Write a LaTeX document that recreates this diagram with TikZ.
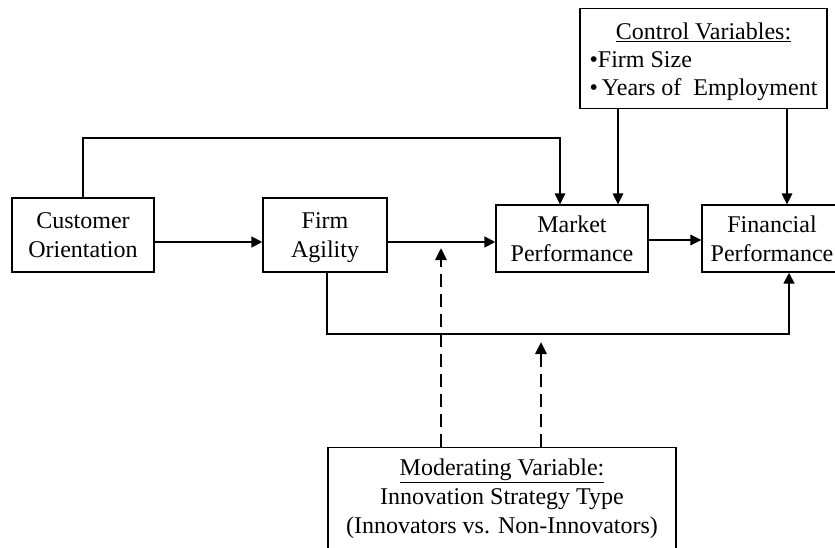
\documentclass[tikz,border=0pt]{standalone}
\usepackage{fontspec}
\setmainfont{Liberation Serif}
\usetikzlibrary{arrows.meta}

\begin{document}
\begin{tikzpicture}[x=1pt, y=-1pt,
  every node/.style={font=\fontsize{24}{29}\selectfont},
  box/.style={draw, line width=1.2pt, inner sep=0pt, align=center},
  thinline/.style={line width=1.3pt},
  thickline/.style={line width=2.8pt},
  tip/.style={-{Triangle[length=11pt,width=10.5pt]}},
  modline/.style={line width=2.8pt, dash pattern=on 13pt off 7pt, -{Triangle[length=12pt,width=11pt]}}
]
\useasboundingbox (0,0) rectangle (835,548);

% construct boxes
\node[box, minimum width=142pt, minimum height=74pt] (cust) at (83,235) {Customer\\Orientation};
\node[box, minimum width=124pt, minimum height=74pt, text depth=0pt] (firm) at (325,235) {Firm\\Agility};
\node[box, minimum width=152pt, minimum height=67pt] (market) at (572,238.5) {Market\\Performance};
\node[box, minimum width=140pt, minimum height=67pt] (fin) at (772,238.5) {Financial\\Performance};

% control variables: first baseline 31pt below the top edge, box 100pt tall
\node[box, anchor=north, minimum width=247pt, text height=31pt, text depth=69pt] (ctrl) at (703.5,8)
  {\fontsize{24}{28}\selectfont\begin{tabular}[t]{@{}l@{}}
   \multicolumn{1}{@{}c@{}}{\underline{Control Variables:}}\\
   •Firm Size\\
   •\,Years of\ \ Employment
   \end{tabular}};

% moderating variable (box runs past the lower edge)
\node[box, anchor=north, minimum width=348pt, text height=28pt, text depth=100pt] (mod) at (502,447)
  {\begin{tabular}[t]{@{}c@{}}
   \underline{Moderating Variable:}\\
   Innovation Strategy Type\\
   (Innovators vs. Non-Innovators)
   \end{tabular}};

% attachment points
\coordinate (ca) at ([yshift=-7pt]cust.east);
\coordinate (fa) at ([yshift=-7pt]firm.east);
\coordinate (ma) at ([yshift=-1.5pt]market.east);
\coordinate (mkin1) at ([xshift=-12pt]market.north);
\coordinate (mkin2) at ([xshift=46pt]market.north);
\coordinate (fnin) at ([xshift=15pt]fin.north);
\coordinate (fnbot) at ([xshift=17pt]fin.south);
\coordinate (ytop) at (0,138);
\coordinate (ybot) at (0,334);
\coordinate (d1) at (441,248);
\coordinate (d2) at (541,342);

% main paths
\draw[thickline, tip] (ca) -- (ca -| firm.west);
\draw[thickline, tip] (fa) -- (fa -| market.west);
\draw[thinline, tip] (ma) -- (ma -| fin.west);
\draw[thinline, tip] (cust.north) |- (ytop -| mkin1) -- (mkin1);
\draw[thickline, tip] ([xshift=2pt]firm.south) |- (ybot -| fnbot) -- (fnbot);

% control effects
\draw[thinline, tip] (ctrl.south -| mkin2) -- (mkin2);
\draw[thinline, tip] (ctrl.south -| fnin) -- (fnin);

% moderation
\draw[modline] (mod.north -| d1) -- (d1);
\draw[modline] (mod.north -| d2) -- (d2);
\end{tikzpicture}
\end{document}
